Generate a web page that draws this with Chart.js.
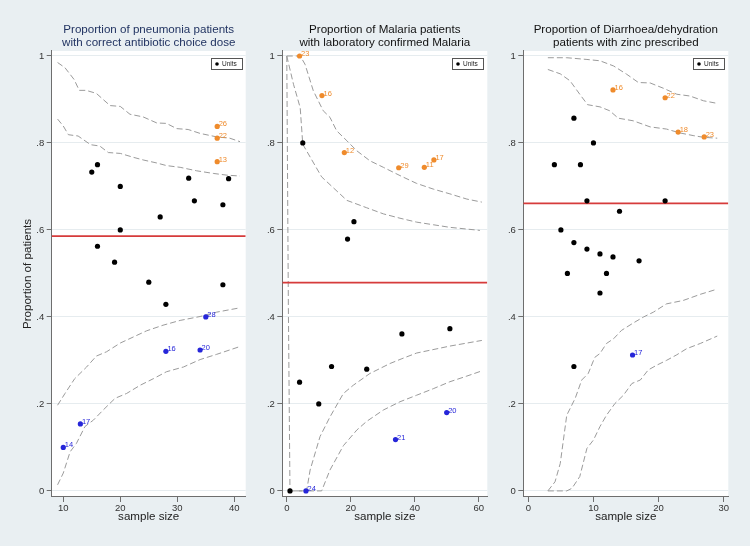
<!DOCTYPE html>
<html>
<head>
<meta charset="utf-8">
<script src="https://cdn.jsdelivr.net/npm/chart.js@4.4.1/dist/chart.umd.min.js"></script>
<style>
  body { margin: 0; background: #e9eff2; }
  #wrap { position: relative; width: 750px; height: 546px; }
  canvas { position: absolute; top: 0; }
</style>
</head>
<body>
<div id="wrap">
  <canvas id="c1" width="250" height="546" style="left:0px"></canvas>
  <canvas id="c2" width="245" height="546" style="left:250px"></canvas>
  <canvas id="c3" width="255" height="546" style="left:495px"></canvas>
</div>
<script>
// ---------- data: pneumonia ----------
const pneuAvg = 0.586;
const pneuUnitN = [15, 16, 20, 20, 16, 19, 27, 32, 33, 38, 39, 25, 38, 28];
const pneuUnitP = [0.733, 0.75, 0.70, 0.60, 0.5625, 0.526, 0.630, 0.719, 0.667, 0.658, 0.718, 0.48, 0.474, 0.429];
const pneuHighN = [37, 37, 37];
const pneuHighP = [0.838, 0.811, 0.757];
const pneuHighId = ["26", "22", "13"];
const pneuLowN = [35, 28, 34, 13, 10];
const pneuLowP = [0.4, 0.321, 0.324, 0.154, 0.1];
const pneuLowId = ["28", "16", "20", "17", "14"];
const pneuUpOuterX = [9, 10.3, 11.9, 12.8, 14, 15.8, 18.2, 20, 21.7, 24, 26.4, 28.1, 29.9, 31.9, 34, 36.9, 39.2, 41];
const pneuUpOuterY = [0.985, 0.973, 0.946, 0.921, 0.921, 0.914, 0.886, 0.884, 0.866, 0.860, 0.846, 0.845, 0.833, 0.831, 0.822, 0.814, 0.811, 0.803];
const pneuUpInnerX = [9, 10, 10.9, 12.6, 14.8, 16.4, 17.9, 20, 22.3, 24, 26.4, 28.1, 30.5, 33.4, 36.3, 38.7, 41];
const pneuUpInnerY = [0.855, 0.839, 0.819, 0.816, 0.796, 0.793, 0.778, 0.776, 0.767, 0.761, 0.754, 0.748, 0.744, 0.736, 0.730, 0.726, 0.724];
const pneuLoInnerX = [9, 10.3, 12, 14.1, 15.8, 17.6, 20, 22.3, 24.6, 27.5, 30.5, 34, 36.9, 41];
const pneuLoInnerY = [0.197, 0.224, 0.258, 0.285, 0.310, 0.320, 0.340, 0.354, 0.368, 0.381, 0.392, 0.401, 0.411, 0.421];
const pneuLoOuterX = [9, 10, 11.2, 12.3, 13.8, 15.3, 17, 19.1, 21.1, 23.5, 25.8, 28.1, 31.1, 34, 36.9, 41];
const pneuLoOuterY = [0.014, 0.041, 0.090, 0.109, 0.148, 0.163, 0.186, 0.213, 0.224, 0.243, 0.258, 0.274, 0.285, 0.302, 0.314, 0.332];

// ---------- data: malaria ----------
const malAvg = 0.479;
const malUnitN = [5, 21, 19, 36, 51, 4, 14, 25, 10, 1];
const malUnitP = [0.8, 0.619, 0.579, 0.361, 0.373, 0.25, 0.286, 0.28, 0.2, 0];
const malHighN = [4, 11, 18, 35, 43, 46];
const malHighP = [1.0, 0.909, 0.778, 0.743, 0.744, 0.761];
const malHighId = ["23", "16", "12", "29", "11", "17"];
const malLowN = [50, 34, 6];
const malLowP = [0.18, 0.118, 0];
const malLowId = ["20", "21", "24"];
const malUpOuterX = [0, 4.2, 5.7, 8.3, 11.4, 13.5, 15.6, 18.8, 21.9, 26, 30.2, 35.4, 40.6, 45.8, 51, 56.3, 61];
const malUpOuterY = [1.0, 1.0, 0.981, 0.920, 0.874, 0.859, 0.828, 0.805, 0.782, 0.759, 0.744, 0.725, 0.707, 0.694, 0.683, 0.671, 0.664];
const malUpInnerX = [0, 2.1, 4.2, 5, 10.9, 18.8, 25, 30.2, 35.4, 40.6, 45.8, 51, 60.4];
const malUpInnerY = [1.0, 0.935, 0.881, 0.797, 0.722, 0.668, 0.651, 0.637, 0.627, 0.618, 0.612, 0.606, 0.599];
const malLoInnerX = [0, 0.5, 1, 6.2, 7.3, 10.4, 13.5, 17.7, 20.8, 26, 32.3, 36, 40.6, 51, 61];
const malLoInnerY = [1.0, 0.42, 0, 0, 0.048, 0.125, 0.170, 0.224, 0.243, 0.270, 0.293, 0.304, 0.317, 0.333, 0.346];
const malLoOuterX = [1, 10.9, 13.5, 17.7, 21.9, 25, 30.2, 35.4, 40.6, 45.8, 51, 56.3, 61];
const malLoOuterY = [0, 0, 0.048, 0.104, 0.140, 0.160, 0.186, 0.205, 0.220, 0.235, 0.251, 0.264, 0.276];

// ---------- data: diarrhoea ----------
const diaAvg = 0.661;
const diaUnitN = [7, 10, 4, 8, 9, 21, 14, 5, 7, 9, 11, 13, 17, 6, 12, 11, 7];
const diaUnitP = [0.857, 0.8, 0.75, 0.75, 0.667, 0.667, 0.643, 0.6, 0.571, 0.556, 0.545, 0.538, 0.529, 0.5, 0.5, 0.455, 0.286];
const diaHighN = [13, 21, 23, 27];
const diaHighP = [0.922, 0.904, 0.825, 0.814];
const diaHighId = ["16", "22", "18", "23"];
const diaLowN = [16];
const diaLowP = [0.3125];
const diaLowId = ["17"];
const diaUpOuterX = [3, 5.9, 9, 11, 13.1, 15.1, 16.9, 18.7, 20.7, 22.8, 24.8, 26.9, 29];
const diaUpOuterY = [0.996, 0.996, 0.992, 0.989, 0.977, 0.958, 0.939, 0.938, 0.926, 0.912, 0.908, 0.897, 0.891];
const diaUpInnerX = [3, 4.9, 6.4, 7.9, 9.1, 11, 12.5, 13.8, 16.1, 18.7, 21.2, 23.3, 25.3, 26.9, 29];
const diaUpInnerY = [0.969, 0.959, 0.943, 0.912, 0.888, 0.883, 0.874, 0.857, 0.851, 0.837, 0.832, 0.823, 0.817, 0.813, 0.811];
const diaLoInnerX = [3, 4.1, 4.9, 5.9, 7.2, 8.2, 9.2, 10.2, 11, 12, 13.1, 14.3, 16.1, 17.7, 19.2, 21.2, 23.8, 26.4, 29];
const diaLoInnerY = [0, 0.021, 0.063, 0.174, 0.213, 0.255, 0.270, 0.307, 0.316, 0.339, 0.350, 0.369, 0.386, 0.400, 0.411, 0.430, 0.438, 0.452, 0.464];
const diaLoOuterX = [3, 5.9, 6.7, 7.9, 9, 10, 11, 12, 13.3, 14.6, 15.9, 17.2, 18.4, 19.7, 21.2, 22.8, 24.3, 26.4, 29];
const diaLoOuterY = [0, 0, 0.006, 0.033, 0.098, 0.117, 0.148, 0.174, 0.201, 0.220, 0.247, 0.255, 0.278, 0.289, 0.300, 0.313, 0.327, 0.339, 0.356];

const yTicks = [0, 0.2, 0.4, 0.6, 0.8, 1];

const FONT = '"Liberation Sans", Arial, sans-serif';
const ORANGE = "#ef8b2c";
const BLUE = "#2626d9";
const AXIS = "#6e6e6e";

function pts(xs, ys) {
  return xs.map((x, i) => ({ x: x, y: ys[i] }));
}

function curve(xs, ys) {
  return {
    label: "limit",
    data: pts(xs, ys),
    showLine: true,
    borderColor: "#9b9b9b",
    borderWidth: 1,
    borderDash: [6, 3],
    pointRadius: 0,
  };
}

// white plot region
const plotBg = {
  id: "plotBg",
  beforeDraw(chart) {
    const a = chart.chartArea;
    const ctx = chart.ctx;
    ctx.save();
    ctx.fillStyle = "#ffffff";
    ctx.fillRect(a.left, a.top, a.right - a.left, a.bottom - a.top);
    ctx.restore();
  },
};

// unit id labels next to outliers + small boxed legend
const marks = {
  id: "marks",
  afterDatasetsDraw(chart) {
    const ctx = chart.ctx;
    ctx.save();
    ctx.font = "7.5px " + FONT;
    ctx.textBaseline = "alphabetic";
    chart.data.datasets.forEach((ds, i) => {
      if (!ds.ids) return;
      ctx.fillStyle = ds.backgroundColor;
      chart.getDatasetMeta(i).data.forEach((pt, j) => {
        ctx.fillText(ds.ids[j], pt.x + 1.5, pt.y);
      });
    });

    const unitsDs = chart.data.datasets.find((d) => d.label === "Units");
    const a = chart.chartArea;
    const w = 31, h = 11;
    const x0 = Math.round(a.right - 4 - w), y0 = Math.round(a.top + 7);
    ctx.fillStyle = "#fff";
    ctx.fillRect(x0, y0, w, h);
    ctx.strokeStyle = "#555";
    ctx.lineWidth = 1;
    ctx.strokeRect(x0 + 0.5, y0 + 0.5, w, h);
    ctx.fillStyle = "#000";
    ctx.beginPath();
    ctx.arc(x0 + 6, y0 + h / 2 + 0.5, 1.8, 0, Math.PI * 2);
    ctx.fill();
    ctx.font = "6.5px " + FONT;
    ctx.textBaseline = "middle";
    ctx.fillStyle = "#222";
    ctx.fillText(unitsDs.label, x0 + 11, y0 + h / 2 + 1);
    ctx.restore();
  },
};

function panel(id, o) {
  new Chart(document.getElementById(id), {
    type: "scatter",
    data: {
      datasets: [
        { label: "Units", data: pts(o.unitN, o.unitP), backgroundColor: "#000", pointRadius: 2.6, borderWidth: 0 },
        { label: "high", data: pts(o.highN, o.highP), ids: o.highId, backgroundColor: ORANGE, pointRadius: 2.6, borderWidth: 0 },
        { label: "low", data: pts(o.lowN, o.lowP), ids: o.lowId, backgroundColor: BLUE, pointRadius: 2.6, borderWidth: 0 },
        {
          label: "average",
          data: [{ x: o.xMin, y: o.avg }, { x: o.xMax, y: o.avg }],
          showLine: true,
          borderColor: "#d63b3b",
          borderWidth: 1.7,
          pointRadius: 0,
        },
        curve(o.upOuterX, o.upOuterY),
        curve(o.upInnerX, o.upInnerY),
        curve(o.loInnerX, o.loInnerY),
        curve(o.loOuterX, o.loOuterY),
      ],
    },
    options: {
      responsive: false,
      animation: false,
      layout: { padding: { left: 0, right: o.padRight, top: 0, bottom: 0 } },
      plugins: {
        legend: { display: false },
        tooltip: { enabled: false },
        title: {
          display: true,
          fullSize: false,
          text: o.title,
          color: o.titleColor,
          font: { family: FONT, size: 11.6, lineHeight: 1.12, weight: "normal" },
          padding: { top: 23, bottom: 2 },
        },
      },
      scales: {
        x: {
          type: "linear",
          min: o.xMin,
          max: o.xMax,
          afterBuildTicks: (s) => { s.ticks = o.xTicks.map((v) => ({ value: v })); },
          afterFit: (s) => { s.height = 49; },
          grid: { drawOnChartArea: false, tickLength: 5, tickColor: AXIS },
          border: { color: AXIS },
          ticks: { color: "#333", font: { family: FONT, size: 9.5 }, padding: 1 },
          title: {
            display: true,
            text: "sample size",
            color: "#222",
            font: { family: FONT, size: 11.6, lineHeight: 1.2 },
            padding: { top: 0, bottom: 22 },
          },
        },
        y: {
          min: -0.014,
          max: 1.0115,
          afterBuildTicks: (s) => { s.ticks = yTicks.map((v) => ({ value: v })); },
          afterFit: (s) => { s.width = o.yWidth; },
          grid: { color: "#e6ecef", tickLength: 5, tickColor: AXIS },
          border: { color: AXIS },
          ticks: {
            color: "#333",
            font: { family: FONT, size: 9.5 },
            padding: 2.5,
            callback: (v) => (v === 0 || v === 1 ? String(v) : String(v).replace("0.", ".")),
          },
          title: {
            display: o.yTitle,
            text: "Proportion of patients",
            color: "#222",
            font: { family: FONT, size: 11.6, lineHeight: 1.2 },
            padding: { top: 21, bottom: 0 },
          },
        },
      },
    },
    plugins: [plotBg, marks],
  });
}

panel("c1", {
  title: ["Proportion of pneumonia patients", "with correct antibiotic choice dose"],
  titleColor: "#223462",
  xMin: 7.97, xMax: 42, xTicks: [10, 20, 30, 40],
  yWidth: 51.7, padRight: 4.3, yTitle: true,
  avg: pneuAvg,
  unitN: pneuUnitN, unitP: pneuUnitP,
  highN: pneuHighN, highP: pneuHighP, highId: pneuHighId,
  lowN: pneuLowN, lowP: pneuLowP, lowId: pneuLowId,
  upOuterX: pneuUpOuterX, upOuterY: pneuUpOuterY,
  upInnerX: pneuUpInnerX, upInnerY: pneuUpInnerY,
  loInnerX: pneuLoInnerX, loInnerY: pneuLoInnerY,
  loOuterX: pneuLoOuterX, loOuterY: pneuLoOuterY,
});

panel("c2", {
  title: ["Proportion of Malaria patients", "with laboratory confirmed Malaria"],
  titleColor: "#111",
  xMin: -1.4, xMax: 62.7, xTicks: [0, 20, 40, 60],
  yWidth: 32.3, padRight: 7.7, yTitle: false,
  avg: malAvg,
  unitN: malUnitN, unitP: malUnitP,
  highN: malHighN, highP: malHighP, highId: malHighId,
  lowN: malLowN, lowP: malLowP, lowId: malLowId,
  upOuterX: malUpOuterX, upOuterY: malUpOuterY,
  upInnerX: malUpInnerX, upInnerY: malUpInnerY,
  loInnerX: malLoInnerX, loInnerY: malLoInnerY,
  loOuterX: malLoOuterX, loOuterY: malLoOuterY,
});

panel("c3", {
  title: ["Proportion of Diarrhoea/dehydration", "patients with zinc prescribed"],
  titleColor: "#111",
  xMin: -0.77, xMax: 30.7, xTicks: [0, 10, 20, 30],
  yWidth: 28.3, padRight: 21.7, yTitle: false,
  avg: diaAvg,
  unitN: diaUnitN, unitP: diaUnitP,
  highN: diaHighN, highP: diaHighP, highId: diaHighId,
  lowN: diaLowN, lowP: diaLowP, lowId: diaLowId,
  upOuterX: diaUpOuterX, upOuterY: diaUpOuterY,
  upInnerX: diaUpInnerX, upInnerY: diaUpInnerY,
  loInnerX: diaLoInnerX, loInnerY: diaLoInnerY,
  loOuterX: diaLoOuterX, loOuterY: diaLoOuterY,
});
</script>
</body>
</html>
